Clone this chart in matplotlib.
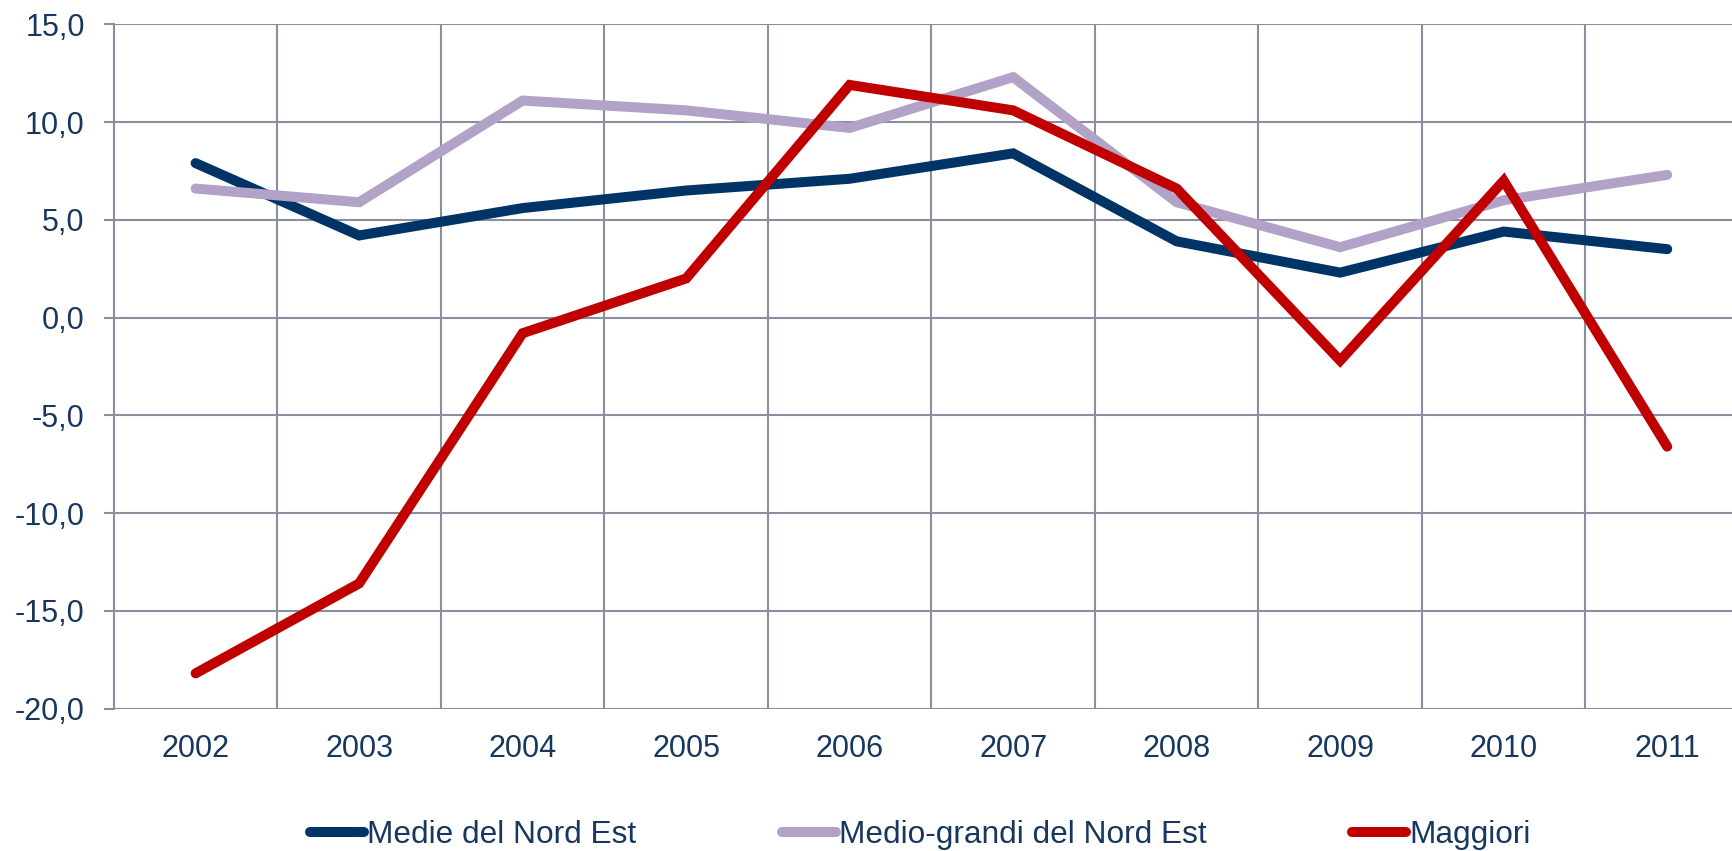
import matplotlib
matplotlib.use("Agg")
import matplotlib.pyplot as plt
from matplotlib.ticker import FuncFormatter

years = ["2002", "2003", "2004", "2005", "2006", "2007", "2008", "2009", "2010", "2011"]
medie = [7.9, 4.2, 5.6, 6.5, 7.1, 8.4, 3.9, 2.3, 4.4, 3.5]
medio_grandi = [6.6, 5.9, 11.1, 10.6, 9.7, 12.3, 5.9, 3.6, 6.0, 7.3]
maggiori = [-18.2, -13.6, -0.8, 2.0, 11.9, 10.6, 6.6, -2.2, 7.0, -6.6]
series_names = ["Medie del Nord Est", "Medio-grandi del Nord Est", "Maggiori"]
y_ticks = [-20, -15, -10, -5, 0, 5, 10, 15]

TEXT = "#17375E"
GRID = "#8B8E9F"
colors = ["#003366", "#B3A2C7", "#C00000"]

plt.rcParams['font.family'] = ['Liberation Sans', 'DejaVu Sans']

fig = plt.figure(figsize=(17.33, 8.51), dpi=100)
ax = fig.add_axes([0.0657, 0.1674, 0.9435, 0.804])

x = list(range(len(years)))
for vals, name, c in zip([medie, medio_grandi, maggiori], series_names, colors):
    ax.plot(x, vals, color=c, lw=7.2, label=name,
            solid_capstyle='round', solid_joinstyle='miter')

ax.set_xlim(-0.5, len(years) - 0.5)
ax.set_ylim(-20, 15)
ax.set_yticks(y_ticks)
ax.yaxis.set_major_formatter(FuncFormatter(lambda v, p: f"{v:.1f}".replace(".", ",")))
ax.set_xticks(x)
ax.set_xticklabels(years)
ax.set_xticks([i + 0.5 for i in x[:-1]], minor=True)

ax.grid(axis='y', which='major', color=GRID, lw=1.5)
ax.grid(axis='x', which='minor', color=GRID, lw=1.5)
ax.grid(axis='x', which='major', visible=False)
ax.set_axisbelow(True)

for s in ['top', 'right', 'bottom']:
    ax.spines[s].set_visible(False)
ax.spines['left'].set_color(GRID)
ax.spines['left'].set_linewidth(1.5)

ax.tick_params(axis='y', which='major', length=7, width=1.5, color=GRID,
               labelsize=22, labelcolor=TEXT, pad=14)
ax.tick_params(axis='x', which='both', length=0, labelsize=22, labelcolor=TEXT, pad=18)

leg = ax.legend(loc='center', bbox_to_anchor=(0.531, 0.019), bbox_transform=fig.transFigure,
                ncol=3, frameon=False, fontsize=22.8, handlelength=1.7, handletextpad=0.1,
                columnspacing=4.6, borderpad=0, borderaxespad=0)
for t in leg.get_texts():
    t.set_color(TEXT)

fig.savefig("out.png", dpi=100)
